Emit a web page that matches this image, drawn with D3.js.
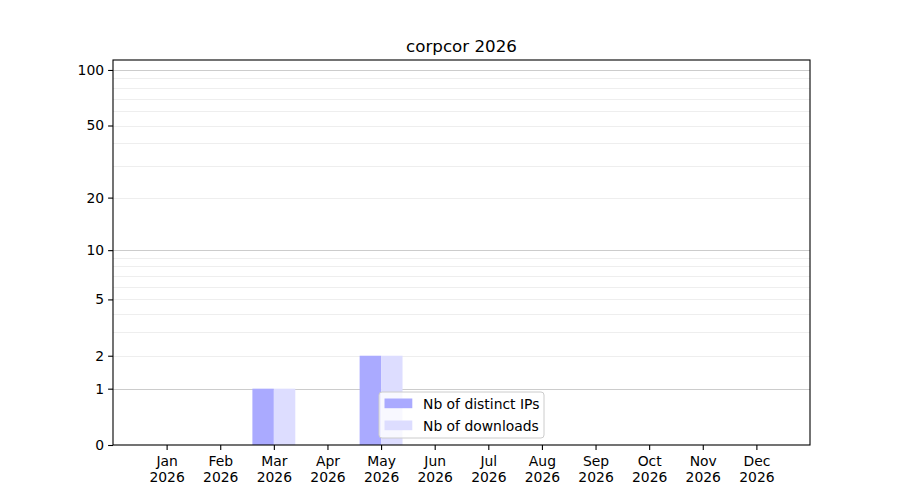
<!DOCTYPE html>
<html>
<head>
<meta charset="UTF-8">
<title>corpcor 2026</title>
<script src="https://d3js.org/d3.v7.min.js"></script>
<style>
    body { margin: 0; background: white; }
    text { font-family: "DejaVu Sans", sans-serif; fill: black; }
    .grid-major { stroke: #cccccc; stroke-width: 1; }
    .grid-minor { stroke: #eeeeee; stroke-width: 1; }
    .frame { fill: none; stroke: black; stroke-width: 1.1; }
</style>
</head>
<body>
<script>
    var months = ["Jan", "Feb", "Mar", "Apr", "May", "Jun", "Jul", "Aug", "Sep", "Oct", "Nov", "Dec"];
    var year = "2026";
    var distinctIPs = [0, 0, 1, 0, 2, 0, 0, 0, 0, 0, 0, 0];
    var downloads = [0, 0, 1, 0, 2, 0, 0, 0, 0, 0, 0, 0];
    var yTicks = [0, 1, 2, 5, 10, 20, 50, 100];
    var majorGrid = [1, 10, 100];
    var minorGrid = [2, 3, 4, 5, 6, 7, 8, 9, 20, 30, 40, 50, 60, 70, 80, 90];

    var W = 900, H = 500;
    var plotLeft = 113, plotRight = 810, plotTop = 60, plotBottom = 445;

    var svg = d3.select("body").append("svg")
        .attr("width", W).attr("height", H);

    var x = d3.scaleLinear().domain([-1, 12]).range([plotLeft, plotRight]);
    var y = d3.scaleSymlog().constant(1).domain([0, 113.2]).range([plotBottom, plotTop]);
    var barW = 0.4;

    // grid
    svg.append("g").selectAll("line")
        .data(minorGrid).enter().append("line")
        .attr("class", "grid-minor")
        .attr("x1", plotLeft).attr("x2", plotRight)
        .attr("y1", function (d) { return Math.round(y(d)) + 0.5; })
        .attr("y2", function (d) { return Math.round(y(d)) + 0.5; });
    svg.append("g").selectAll("line")
        .data(majorGrid).enter().append("line")
        .attr("class", "grid-major")
        .attr("x1", plotLeft).attr("x2", plotRight)
        .attr("y1", function (d) { return Math.round(y(d)) + 0.5; })
        .attr("y2", function (d) { return Math.round(y(d)) + 0.5; });

    // bars
    svg.append("g").selectAll("rect")
        .data(distinctIPs).enter().append("rect")
        .attr("x", function (d, i) { return x(i - barW); })
        .attr("width", x(barW) - x(0))
        .attr("y", function (d) { return y(d); })
        .attr("height", function (d) { return y(0) - y(d); })
        .attr("fill", "#aaaaff");
    svg.append("g").selectAll("rect")
        .data(downloads).enter().append("rect")
        .attr("x", function (d, i) { return x(i); })
        .attr("width", x(barW) - x(0))
        .attr("y", function (d) { return y(d); })
        .attr("height", function (d) { return y(0) - y(d); })
        .attr("fill", "#ddddff");

    // frame
    svg.append("rect").attr("class", "frame")
        .attr("x", plotLeft).attr("y", plotTop)
        .attr("width", plotRight - plotLeft).attr("height", plotBottom - plotTop);

    // y axis
    var yAxis = svg.append("g").attr("transform", "translate(" + plotLeft + ",0)")
        .call(d3.axisLeft(y).tickValues(yTicks).tickFormat(d3.format("d")).tickSize(4.9).tickPadding(4));
    yAxis.select(".domain").remove();
    yAxis.selectAll("text").attr("font-size", "13.9px").attr("font-family", "DejaVu Sans");
    yAxis.selectAll("line").attr("stroke-width", 1.1);

    // x axis
    var xAxis = svg.append("g").attr("transform", "translate(0," + plotBottom + ")")
        .call(d3.axisBottom(x).tickValues(d3.range(12)).tickFormat("").tickSize(4.9));
    xAxis.select(".domain").remove();
    xAxis.selectAll("line").attr("stroke-width", 1.1);
    var xl = xAxis.selectAll("g.tick").append("text")
        .attr("text-anchor", "middle")
        .attr("font-size", "13.9px")
        .attr("font-family", "DejaVu Sans")
        .attr("fill", "black");
    xl.append("tspan").attr("x", 0).attr("y", 21)
        .text(function (d) { return months[d]; });
    xl.append("tspan").attr("x", 0).attr("y", 37)
        .text(year);

    // title
    svg.append("text")
        .attr("x", (plotLeft + plotRight) / 2).attr("y", 52)
        .attr("text-anchor", "middle")
        .attr("font-size", "16.7px")
        .text("corpcor " + year);

    // legend
    var legend = svg.append("g").attr("transform", "translate(379,392)");
    legend.append("rect")
        .attr("width", 165).attr("height", 46)
        .attr("rx", 3).attr("ry", 3)
        .attr("fill", "white").attr("fill-opacity", 0.8)
        .attr("stroke", "#cccccc").attr("stroke-width", 1);
    var items = [["Nb of distinct IPs", "#aaaaff"], ["Nb of downloads", "#ddddff"]];
    var li = legend.selectAll("g.item").data(items).enter().append("g")
        .attr("transform", function (d, i) { return "translate(0," + (i * 22) + ")"; });
    li.append("rect")
        .attr("x", 5.5).attr("y", 6.5)
        .attr("width", 27.8).attr("height", 9.7)
        .attr("fill", function (d) { return d[1]; });
    li.append("text")
        .attr("x", 44).attr("y", 16.5)
        .attr("font-size", "13.9px")
        .text(function (d) { return d[0]; });
</script>
</body>
</html>
